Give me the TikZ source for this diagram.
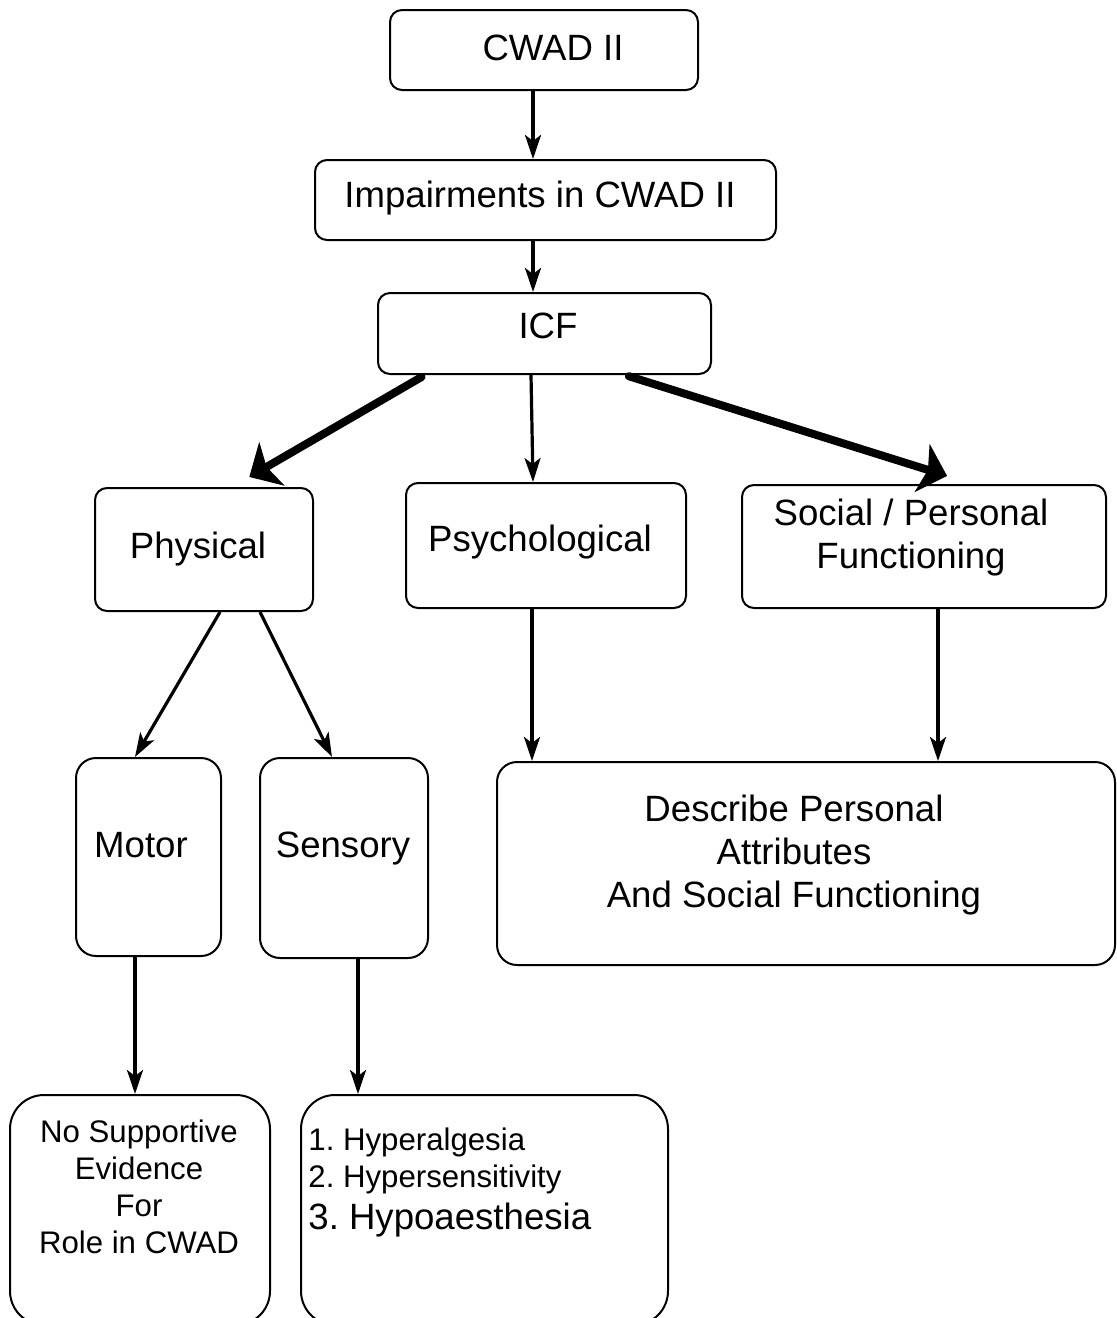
\documentclass[tikz,border=0pt]{standalone}
\usepackage{fontspec}
\setmainfont{Liberation Sans}
\usetikzlibrary{arrows.meta,fit}
\frenchspacing
\begin{document}
\begin{tikzpicture}[x=0.5pt,y=-0.5pt,
  box/.style={draw, rounded corners=6pt, inner sep=0pt, line width=1pt},
  midbox/.style={box, rounded corners=10pt},
  bigbox/.style={box, rounded corners=17pt},
  big/.style={font=\fontsize{18.3pt}{21.3pt}\selectfont, inner sep=0pt, align=center, anchor=base},
  small/.style={font=\fontsize{15.6pt}{18.5pt}\selectfont, inner sep=0pt, align=center, anchor=base},
  link/.style={line width=1.6pt, -{Stealth[length=12pt,width=8pt,inset=3pt]}},
  heavy/.style={line width=4pt, line cap=round, -{Stealth[length=13pt,width=25pt,inset=3pt]}}
]
\useasboundingbox (0,0) rectangle (1117,1318);
\clip (0,0) rectangle (1117,1318);

% boxes
\node[box, fit={(390,10)(698,90)}] (cwad) {};
\node[box, fit={(315,160)(776,240)}] (imp) {};
\node[box, fit={(378,293)(711,374)}] (icf) {};
\node[box, fit={(95,488)(313,611)}] (phys) {};
\node[box, fit={(406,483)(686,608)}] (psy) {};
\node[box, fit={(742,485)(1106,608)}] (soc) {};
\node[midbox, fit={(76,758)(221,956)}] (motor) {};
\node[midbox, fit={(260,758)(428,958)}] (sens) {};
\node[midbox, fit={(497,762)(1115,965)}] (desc) {};
\node[bigbox, fit={(10,1095)(270,1325)}] (nosup) {};
\node[bigbox, fit={(301,1095)(668,1325)}] (list) {};

% labels (multi-line labels are placed by their last baseline)
\node[big] (cwadt) at (553,60) {CWAD II};
\node[big] (impt) at (540,207) {Impairments in CWAD II};
\node[big] (icft) at (548,338) {ICF};
\node[big] (physt) at (198,558) {Physical};
\node[big] (psyt) at (540,551) {Psychological};
\node[big] (soct) at (911,568) {Social / Personal\\Functioning};
\node[big] (motort) at (141,857) {Motor};
\node[big] (senst) at (343,857) {Sensory};
\node[big] (desct) at (794,907) {Describe Personal\\Attributes\\And Social Functioning};
\node[small] (nosupt) at (139,1253) {No Supportive\\Evidence\\For\\Role in CWAD};
\node[small, align=left, anchor=base west] (listt) at (308,1229)
  {1. Hyperalgesia\\2. Hypersensitivity\\[2.5pt]{\fontsize{18.3pt}{21pt}\selectfont 3. Hypoaesthesia}};

% connectors
\draw[link] (cwad.south -| 533,0) -- (imp.north -| 533,0);
\draw[link] (imp.south -| 533,0) -- (icf.north -| 533,0);
\draw[heavy, shorten <=2pt, shorten >=10pt] (icf.south -| 425,0) -- (phys.north -| 232,0);
\draw[link] (icf.south -| 531,0) -- (psy.north -| 533,0);
\draw[heavy, shorten <=2pt, shorten >=13.6pt] (icf.south -| 625,0) -- (soc.north -| 973,0);
\draw[link] (phys.south -| 220,0) -- (motor.north -| 135,0);
\draw[link] (phys.south -| 260,0) -- (sens.north -| 332,0);
\draw[link] (psy.south -| 532,0) -- (desc.north -| 532,0);
\draw[link] (soc.south -| 938,0) -- (desc.north -| 938,0);
\draw[link] (motor.south -| 135,0) -- (nosup.north -| 135,0);
\draw[link] (sens.south -| 358,0) -- (list.north -| 358,0);
\end{tikzpicture}
\end{document}
